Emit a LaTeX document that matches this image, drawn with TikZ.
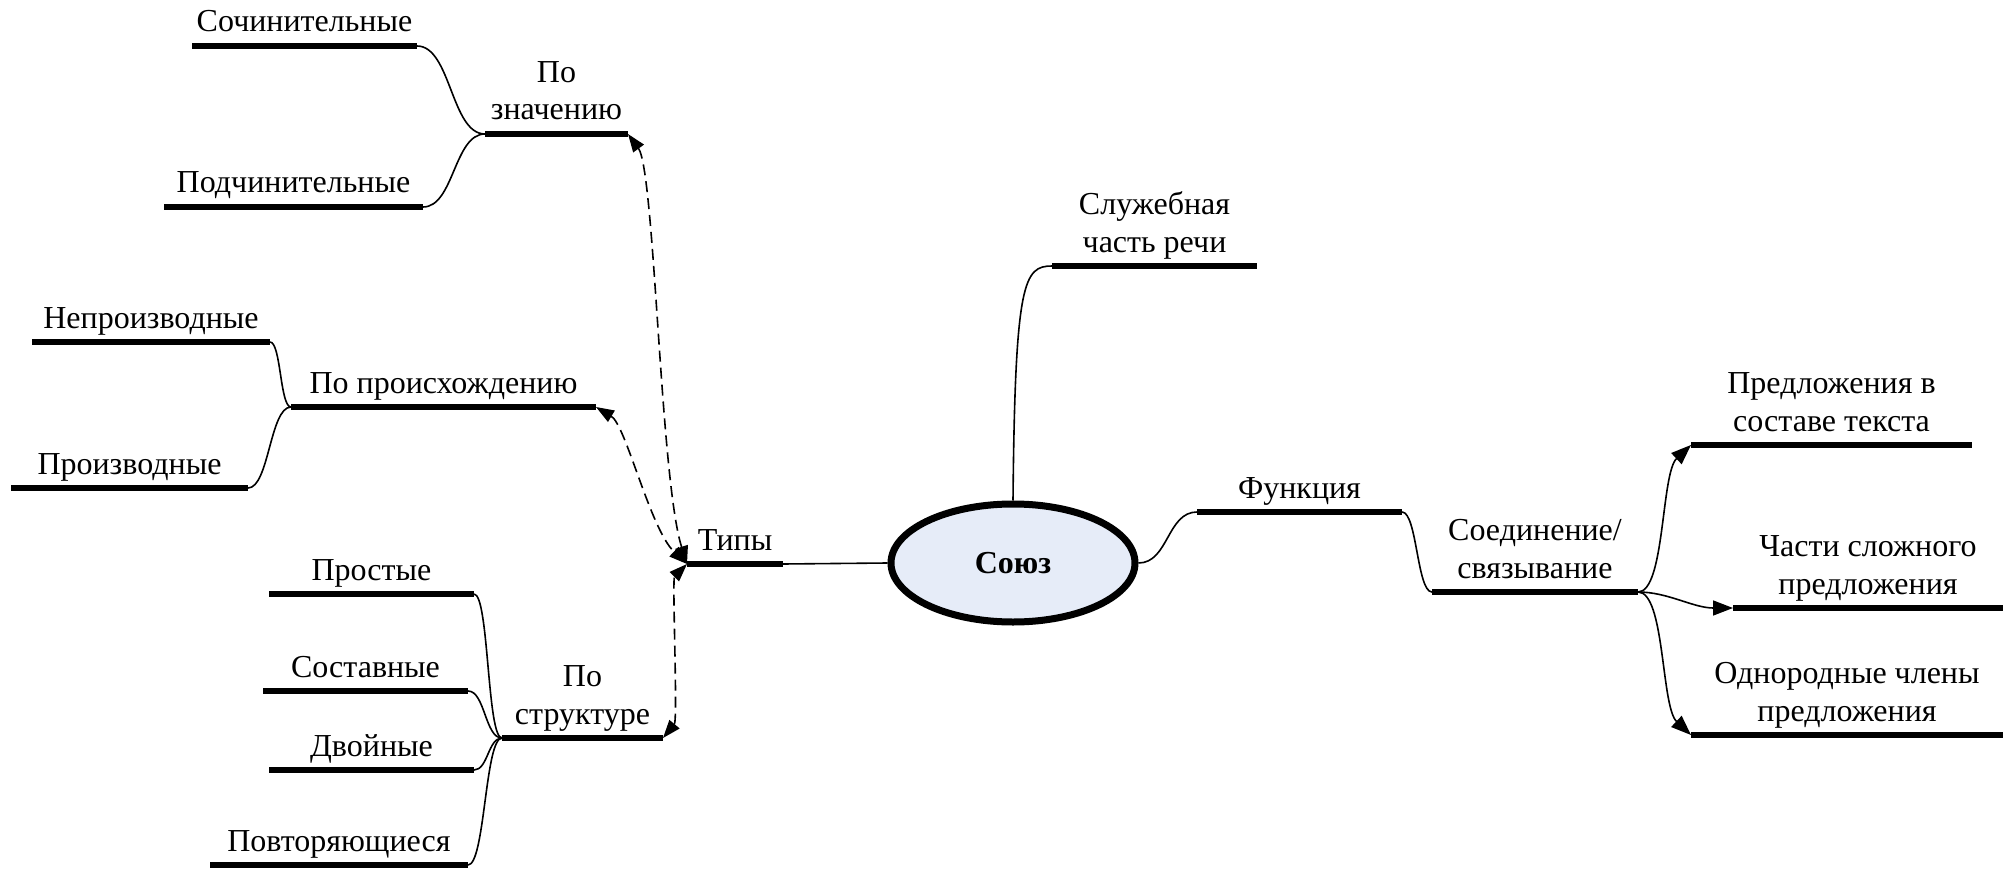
\documentclass[tikz,border=0pt]{standalone}
\usepackage{fontspec}
\setmainfont{Liberation Serif}
\usetikzlibrary{arrows.meta,shapes.geometric}
\definecolor{ellfill}{RGB}{230,236,248}
\begin{document}
\begin{tikzpicture}[x=1pt,y=-1pt,
  bar/.style={rectangle,fill=black,draw=none,inner sep=0pt,outer sep=0pt,minimum height=6.5pt},
  lbl/.style={anchor=base,inner sep=0pt,align=center,font=\fontsize{32}{37.5}\selectfont},
  conn/.style={line width=1.6pt},
  arr/.style={conn,-{Triangle[length=20pt,width=15pt]}},
  darr/.style={line width=1.6pt,dash pattern=on 11pt off 6pt,{Triangle[length=18pt,width=13pt]}-{Triangle[length=18pt,width=13pt]}}
]
\useasboundingbox (0,0) rectangle (2013,869);

% bars
\node[bar,minimum width=225pt] (soch)    at (304.5,46) {};
\node[bar,minimum width=143pt] (znach)   at (556.5,134) {};
\node[bar,minimum width=259pt] (podch)   at (293.5,207) {};
\node[bar,minimum width=238pt] (neproiz) at (151,342) {};
\node[bar,minimum width=305pt] (proish)  at (443.5,407) {};
\node[bar,minimum width=237pt] (proizv)  at (129.5,488) {};
\node[bar,minimum width=96pt]  (types)   at (735,564) {};
\node[bar,minimum width=205pt] (prost)   at (371.5,594) {};
\node[bar,minimum width=205pt] (sost)    at (365.5,691) {};
\node[bar,minimum width=205pt] (dvoin)   at (371.5,770) {};
\node[bar,minimum width=258pt] (povt)    at (339,865) {};
\node[bar,minimum width=161pt] (struct)  at (582.5,738) {};
\node[bar,minimum width=205pt] (sluzh)   at (1154.5,266) {};
\node[bar,minimum width=205pt] (func)    at (1299.5,512) {};
\node[bar,minimum width=206pt] (soed)    at (1535,592) {};
\node[bar,minimum width=281pt] (predl)   at (1831.5,445) {};
\node[bar,minimum width=270pt] (chasti)  at (1868,608) {};
\node[bar,minimum width=312pt] (odnor)   at (1847,735) {};

% labels
\node[lbl] (soch-t)    at ([yshift=14pt]soch.center) {Сочинительные};
\node[lbl] (znach-t)   at ([yshift=14pt]znach.center) {По\\значению};
\node[lbl] (podch-t)   at ([yshift=14pt]podch.center) {Подчинительные};
\node[lbl] (neproiz-t) at ([yshift=14pt]neproiz.center) {Непроизводные};
\node[lbl] (proish-t)  at ([yshift=14pt]proish.center) {По происхождению};
\node[lbl] (proizv-t)  at ([yshift=14pt]proizv.center) {Производные};
\node[lbl] (types-t)   at ([yshift=14pt]types.center) {Типы};
\node[lbl] (prost-t)   at ([yshift=14pt]prost.center) {Простые};
\node[lbl] (sost-t)    at ([yshift=14pt]sost.center) {Составные};
\node[lbl] (dvoin-t)   at ([yshift=14pt]dvoin.center) {Двойные};
\node[lbl] (povt-t)    at ([yshift=14pt]povt.center) {Повторяющиеся};
\node[lbl] (struct-t)  at ([yshift=14pt]struct.center) {По\\структуре};
\node[lbl] (sluzh-t)   at ([yshift=14pt]sluzh.center) {Служебная\\часть речи};
\node[lbl] (func-t)    at ([yshift=14pt]func.center) {Функция};
\node[lbl] (soed-t)    at ([yshift=14pt]soed.center) {Соединение/\\связывание};
\node[lbl] (predl-t)   at ([yshift=14pt]predl.center) {Предложения в\\составе текста};
\node[lbl] (chasti-t)  at ([yshift=14pt]chasti.center) {Части сложного\\предложения};
\node[lbl] (odnor-t)   at ([yshift=14pt]odnor.center) {Однородные члены\\предложения};

% central ellipse
\node[ellipse,draw,line width=7pt,fill=ellfill,minimum width=244pt,minimum height=118pt,inner sep=0pt,
      font=\bfseries\fontsize{32}{37.5}\selectfont] (soyuz) at (1013,563) {Союз};

% connectors
\draw[conn] (soch.east) .. controls +(34,0) and +(-34,0) .. (znach.west);
\draw[conn] (podch.east) .. controls +(31,0) and +(-31,0) .. (znach.west);
\draw[conn] (neproiz.east) .. controls +(11,0) and +(-11,0) .. (proish.west);
\draw[conn] (proizv.east) .. controls +(21,0) and +(-21,0) .. (proish.west);
\draw[conn] (prost.east) .. controls +(15,0) and +(-15,0) .. (struct.west);
\draw[conn] (sost.east) .. controls +(17,0) and +(-17,0) .. (struct.west);
\draw[conn] (dvoin.east) .. controls +(14,0) and +(-14,0) .. (struct.west);
\draw[conn] (povt.east) .. controls +(17,0) and +(-17,0) .. (struct.west);

\draw[darr] (znach.east) .. controls +(27,37) and +(-27,-85) .. (types.west);
\draw[darr] (proish.east) .. controls +(30,18) and +(-37,-35) .. (types.west);
\draw[darr] (struct.east) .. controls +(15,-18) and +(-15,15) .. (types.west);

\draw[conn] (types.east) -- (soyuz.west);
\draw[conn] (soyuz.north) .. controls +(2,-220) and +(-28,0) .. (sluzh.west);
\draw[conn] (soyuz.east) .. controls +(30,0) and +(-30,0) .. (func.west);
\draw[conn] (func.east) .. controls +(15,0) and +(-15,0) .. (soed.west);
\draw[arr] (soed.east) .. controls +(27,0) and +(-30,28) .. (predl.west);
\draw[arr] (soed.east) .. controls +(30,0) and +(-40,0) .. (chasti.west);
\draw[arr] (soed.east) .. controls +(27,0) and +(-30,-28) .. (odnor.west);
\end{tikzpicture}
\end{document}
